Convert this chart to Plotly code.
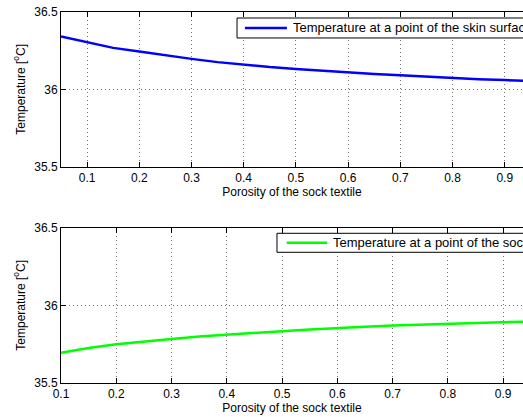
import plotly.graph_objects as go

# Data
porosity_skin = [0.05, 0.1, 0.15, 0.2, 0.25, 0.3, 0.35, 0.4, 0.45, 0.5,
                 0.55, 0.6, 0.65, 0.7, 0.75, 0.8, 0.85, 0.9, 0.95, 1.0]
temp_skin = [36.342, 36.303, 36.268, 36.244, 36.219, 36.197, 36.176, 36.158, 36.144, 36.132,
             36.120, 36.110, 36.100, 36.091, 36.082, 36.073, 36.066, 36.060, 36.054, 36.048]

porosity_sock = [0.1, 0.15, 0.2, 0.25, 0.3, 0.35, 0.4, 0.45, 0.5, 0.55,
                 0.6, 0.65, 0.7, 0.75, 0.8, 0.85, 0.9, 0.95, 1.0]
temp_sock = [35.694, 35.725, 35.750, 35.768, 35.784, 35.799, 35.812, 35.823, 35.834, 35.845,
             35.855, 35.863, 35.870, 35.876, 35.881, 35.888, 35.894, 35.898, 35.902]

x_ticks = [0.1, 0.2, 0.3, 0.4, 0.5, 0.6, 0.7, 0.8, 0.9, 1.0]
x_ticklabels = ["0.1", "0.2", "0.3", "0.4", "0.5", "0.6", "0.7", "0.8", "0.9", "1"]
y_ticks = [35.5, 36.0, 36.5]
y_ticklabels = ["35.5", "36", "36.5"]

name_skin = "Temperature at a point of the skin surface"
name_sock = "Temperature at a point of the sock textile"
x_title = "Porosity of the sock textile"
y_title = "Temperature [<sup>o</sup>C]"

COLOR_SKIN = "#0000ff"
COLOR_SOCK = "#00ff00"
FONT = "Liberation Sans, Arial, sans-serif"

fig = go.Figure()
fig.add_trace(go.Scatter(x=porosity_skin, y=temp_skin, mode="lines", name=name_skin,
                         line=dict(color=COLOR_SKIN, width=2.5), xaxis="x", yaxis="y",
                         showlegend=False))
fig.add_trace(go.Scatter(x=porosity_sock, y=temp_sock, mode="lines", name=name_sock,
                         line=dict(color=COLOR_SOCK, width=2.5), xaxis="x2", yaxis="y2",
                         showlegend=False))

common_x = dict(tickvals=x_ticks, ticktext=x_ticklabels, ticks="inside", ticklen=5,
                tickcolor="black", showline=True, linecolor="black", linewidth=1,
                mirror="ticks", showgrid=True, gridcolor="rgba(0,0,0,0.55)",
                griddash="1px,3px", gridwidth=1, zeroline=False,
                tickfont=dict(family=FONT, size=12, color="black"),
                title=dict(text=x_title, font=dict(family=FONT, size=12, color="black"),
                           standoff=2))
common_y = dict(tickvals=y_ticks, ticktext=y_ticklabels, ticks="inside", ticklen=5,
                tickcolor="black", showline=True, linecolor="black", linewidth=1,
                mirror=False, showgrid=True, gridcolor="rgba(0,0,0,0.55)",
                griddash="1px,3px", gridwidth=1, zeroline=False, range=[35.5, 36.5],
                tickfont=dict(family=FONT, size=12, color="black"),
                title=dict(text=y_title, font=dict(family=FONT, size=12, color="black"),
                           standoff=6))

# Legend boxes (drawn as boxes, sample lines and text, in paper coordinates)
legends = [
    # box x0, box y0, box y1, line x0, line x1, line y, text x, name, color
    (0.381, 0.930, 0.9838, 0.398, 0.489, 0.957, 0.498, name_skin, COLOR_SKIN),
    (0.4675, 0.3523, 0.4035, 0.4885, 0.5764, 0.3779, 0.5844, name_sock, COLOR_SOCK),
]
shapes = []
annotations = []
for bx0, by0, by1, lx0, lx1, ly, tx, name, color in legends:
    shapes.append(dict(type="rect", xref="paper", yref="paper", x0=bx0, x1=1.2,
                       y0=by0, y1=by1, line=dict(color="black", width=1),
                       fillcolor="white", layer="above"))
    shapes.append(dict(type="line", xref="paper", yref="paper", x0=lx0, x1=lx1,
                       y0=ly, y1=ly, line=dict(color=color, width=2.5), layer="above"))
    annotations.append(dict(xref="paper", yref="paper", x=tx, y=ly, text=name,
                            xanchor="left", yanchor="middle", showarrow=False,
                            font=dict(family=FONT, size=13, color="black")))

fig.update_layout(
    width=523, height=417,
    margin=dict(l=61, r=0, t=12, b=34, autoexpand=False),
    paper_bgcolor="white", plot_bgcolor="white",
    showlegend=False,
    xaxis=dict(domain=[0, 1], range=[0.05, 0.935], anchor="y", **common_x),
    yaxis=dict(domain=[0.583, 1.0], anchor="x", **common_y),
    xaxis2=dict(domain=[0, 1], range=[0.1, 0.936], anchor="y2", **common_x),
    yaxis2=dict(domain=[0.0, 0.4186], anchor="x2", **common_y),
    shapes=shapes,
    annotations=annotations,
)

fig.write_html("out.html")
